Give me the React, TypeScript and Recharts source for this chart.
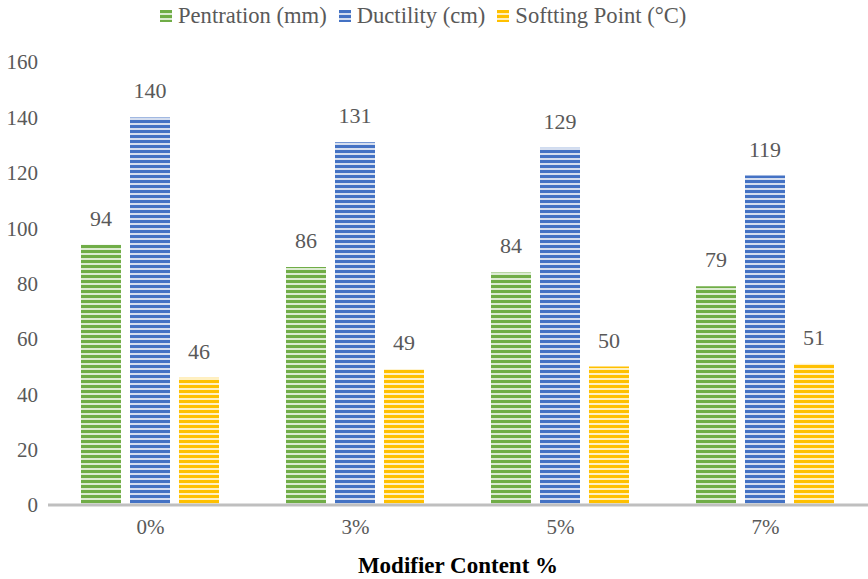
import React from 'react';
import { BarChart, Bar, XAxis, YAxis, LabelList } from 'recharts';

const categories = ['0%', '3%', '5%', '7%'];
const penetration = [94, 86, 84, 79];
const ductility = [140, 131, 129, 119];
const softening = [46, 49, 50, 51];
const yTicks = [0, 20, 40, 60, 80, 100, 120, 140, 160];

const series = [
  { key: 'pen', name: 'Pentration (mm)', color: '#70ad47', light: '#dcebd2', pattern: 'stripe-green' },
  { key: 'duc', name: 'Ductility (cm)', color: '#4472c4', light: '#d5deef', pattern: 'stripe-blue' },
  { key: 'soft', name: 'Softting Point (°C)', color: '#ffc000', light: '#fff0c2', pattern: 'stripe-yellow' },
];

const data = categories.map((c, i) => ({
  cat: c,
  pen: penetration[i],
  duc: ductility[i],
  soft: softening[i],
}));

const font = '"Liberation Serif", "Times New Roman", serif';
const gray = '#595959';

const StripeDefs = () => (
  <svg width={0} height={0} style={{ position: 'absolute' }}>
    <defs>
      {series.map((s) => (
        <pattern key={s.pattern} id={s.pattern} width={6} height={5} patternUnits="userSpaceOnUse">
          <rect x={0} y={0} width={6} height={5} fill={s.light} />
          <rect x={0} y={0} width={6} height={3} fill={s.color} />
        </pattern>
      ))}
    </defs>
  </svg>
);

const ChartLegend = () => (
  <div
    style={{
      position: 'absolute',
      top: 3,
      left: 160,
      display: 'flex',
      fontFamily: font,
      fontSize: 22.6,
      color: gray,
      whiteSpace: 'nowrap',
    }}
  >
    {series.map((s) => (
      <span key={s.key} style={{ display: 'flex', alignItems: 'center', marginRight: 12 }}>
        <svg width={12} height={12} style={{ marginRight: 6 }}>
          <rect width={12} height={12} fill={`url(#${s.pattern})`} />
        </svg>
        {s.name}
      </span>
    ))}
  </div>
);

export default function App() {
  return (
    <div style={{ position: 'absolute', left: 0, top: 0, width: 868, height: 579, background: '#fff' }}>
      <StripeDefs />
      <ChartLegend />
      <BarChart
        width={868}
        height={579}
        data={data}
        margin={{ top: 62, right: 0, bottom: 0, left: 0 }}
        barCategoryGap={33}
        barGap={9}
      >
        <XAxis
          dataKey="cat"
          axisLine={{ stroke: '#bfbfbf', strokeWidth: 3 }}
          tickLine={false}
          tickSize={0}
          tickMargin={14}
          tick={{ fill: gray, fontSize: 21, fontFamily: font }}
          height={74}
          label={{ value: 'Modifier Content %', position: 'insideBottom', offset: 6, fill: '#000', fontSize: 23, fontWeight: 'bold', fontFamily: font }}
        />
        <YAxis
          domain={[0, 160]}
          ticks={yTicks}
          width={48}
          axisLine={false}
          tickLine={false}
          tickSize={0}
          tickMargin={10}
          tick={{ fill: gray, fontSize: 21, fontFamily: font }}
        />
        {series.map((s) => (
          <Bar key={s.key} dataKey={s.key} name={s.name} fill={`url(#${s.pattern})`} isAnimationActive={false}>
            <LabelList dataKey={s.key} position="top" offset={19} fill={gray} fontSize={22} fontFamily={font} />
          </Bar>
        ))}
      </BarChart>
    </div>
  );
}
